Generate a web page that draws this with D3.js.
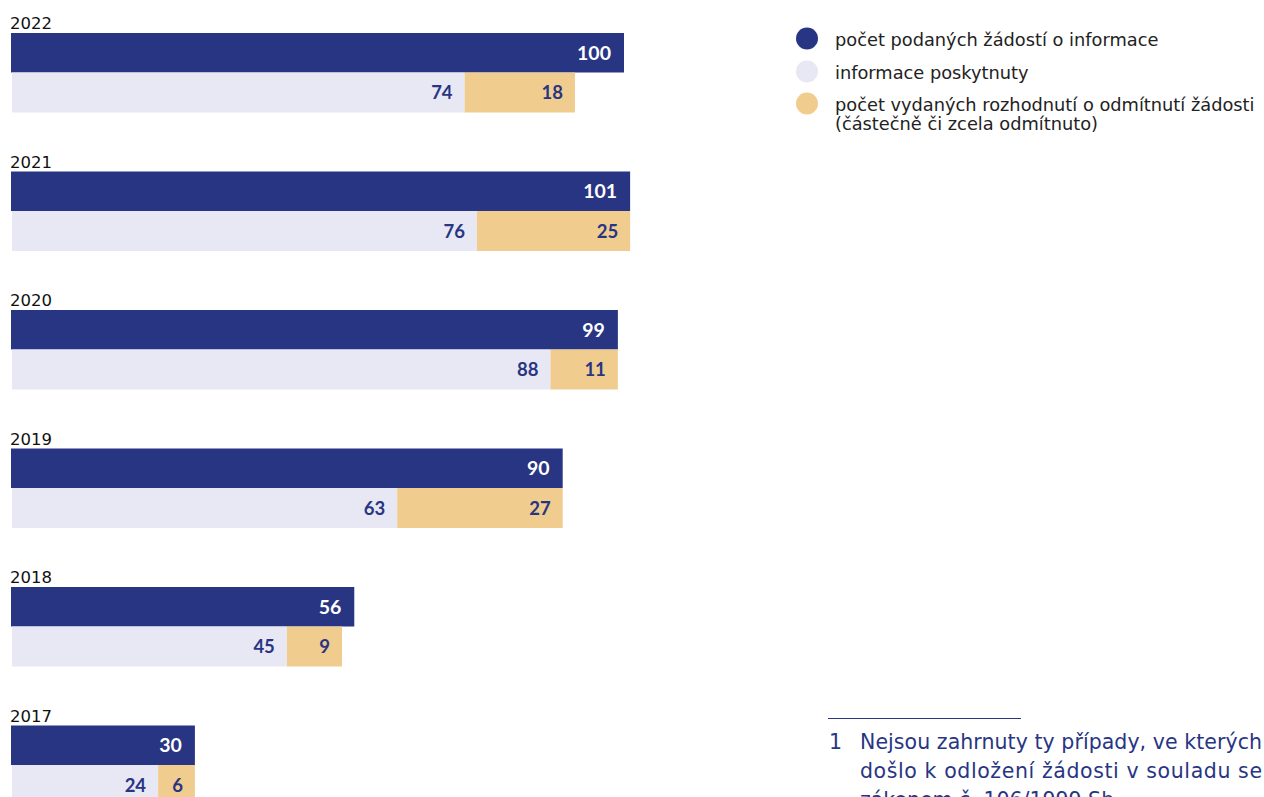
<!DOCTYPE html>
<html lang="cs">
<head>
<meta charset="UTF-8">
<title>Žádosti o informace</title>
<script src="https://d3js.org/d3.v7.min.js"></script>
<style>
  body { margin: 0; background: #fff; }
  svg text { font-family: "DejaVu Sans", "Noto Sans", sans-serif; }
  svg text.val { font-family: "Lato", "Noto Sans", sans-serif; }
</style>
</head>
<body>
<svg id="chart" width="1264" height="797"></svg>
<script>
// data
var years = ["2022", "2021", "2020", "2019", "2018", "2017"];
var podane = [100, 101, 99, 90, 56, 30];
var poskytnuto = [74, 76, 88, 63, 45, 24];
var odmitnuto = [18, 25, 11, 27, 9, 6];
var legendLabels = [
  ["počet podaných žádostí o informace"],
  ["informace poskytnuty"],
  ["počet vydaných rozhodnutí o odmítnutí žádosti", "(částečně či zcela odmítnuto)"]
];
var footnoteLines = [
  "Nejsou zahrnuty ty případy, ve kterých",
  "došlo k odložení žádosti v souladu se",
  "zákonem č. 106/1999 Sb."
];

var navy = "#283583", lilac = "#e8e7f4", sand = "#f0cc8f";
var colors = [navy, lilac, sand];

var svg = d3.select("#chart");

var x = d3.scaleLinear().domain([0, 100]).range([11, 624]);
var y = d3.scaleBand().domain(years).range([33, 33 + 138.5 * 6]).paddingInner(0).paddingOuter(0);
var barH = 39.5;

var g = svg.append("g");
var rows = g.selectAll("g.row")
  .data(years.map(function(d, i) {
    return { year: d, total: podane[i], ok: poskytnuto[i], no: odmitnuto[i] };
  }))
  .enter().append("g")
  .attr("class", "row")
  .attr("transform", function(d) { return "translate(0," + y(d.year) + ")"; });

// year label
rows.append("text")
  .attr("x", 10).attr("y", -4)
  .attr("font-size", 16.5)
  .attr("fill", "#111")
  .text(function(d) { return d.year; });

// total bar
rows.append("rect")
  .attr("x", x(0)).attr("y", 0)
  .attr("width", function(d) { return x(d.total) - x(0); })
  .attr("height", barH)
  .attr("fill", navy);

rows.append("text")
  .attr("class", "val")
  .attr("x", function(d) { return x(d.total) - 13; })
  .attr("y", barH / 2 + 7)
  .attr("text-anchor", "end")
  .attr("font-size", 19.5).attr("font-weight", "bold")
  .attr("fill", "#fff")
  .text(function(d) { return d.total; });

// provided
rows.append("rect")
  .attr("x", x(0) + 1).attr("y", barH)
  .attr("width", function(d) { return x(d.ok) - x(0) - 1; })
  .attr("height", barH + 0.5)
  .attr("fill", lilac);

rows.append("text")
  .attr("class", "val")
  .attr("x", function(d) { return x(d.ok) - 12; })
  .attr("y", barH * 1.5 + 7)
  .attr("text-anchor", "end")
  .attr("font-size", 18.5).attr("font-weight", "bold")
  .attr("fill", navy)
  .text(function(d) { return d.ok; });

// refused
rows.append("rect")
  .attr("x", function(d) { return x(d.ok); }).attr("y", barH)
  .attr("width", function(d) { return x(d.ok + d.no) - x(d.ok); })
  .attr("height", barH + 0.5)
  .attr("fill", sand);

rows.append("text")
  .attr("class", "val")
  .attr("x", function(d) { return x(d.ok + d.no) - 12; })
  .attr("y", barH * 1.5 + 7)
  .attr("text-anchor", "end")
  .attr("font-size", 18.5).attr("font-weight", "bold")
  .attr("fill", navy)
  .text(function(d) { return d.no; });

// legend
var legY = [38.5, 71.5, 103.5];
var leg = svg.append("g").selectAll("g")
  .data(legendLabels).enter().append("g")
  .attr("transform", function(d, i) { return "translate(807," + legY[i] + ")"; });
leg.append("circle").attr("r", 11).attr("fill", function(d, i) { return colors[i]; });
leg.append("text")
  .attr("x", 28).attr("y", 7)
  .attr("font-size", 17.8)
  .attr("fill", "#222")
  .selectAll("tspan").data(function(d) { return d; }).enter().append("tspan")
  .attr("x", 28).attr("dy", function(d, i) { return i ? 19.5 : 0; })
  .text(function(d) { return d; });

// footnote
svg.append("line")
  .attr("x1", 828).attr("x2", 1021).attr("y1", 718.5).attr("y2", 718.5)
  .attr("stroke", navy).attr("stroke-width", 1);
svg.append("text")
  .attr("x", 829).attr("y", 749)
  .attr("font-size", 20.5).attr("fill", navy)
  .text("1");
svg.append("g").selectAll("text")
  .data(footnoteLines).enter().append("text")
  .attr("x", 860)
  .attr("y", function(d, i) { return 749 + i * 29; })
  .attr("font-size", 20.5).attr("fill", navy)
  .attr("textLength", function(d, i) { return i < 2 ? 402 : null; })
  .attr("lengthAdjust", "spacing")
  .text(function(d) { return d; });
</script>
</body>
</html>
